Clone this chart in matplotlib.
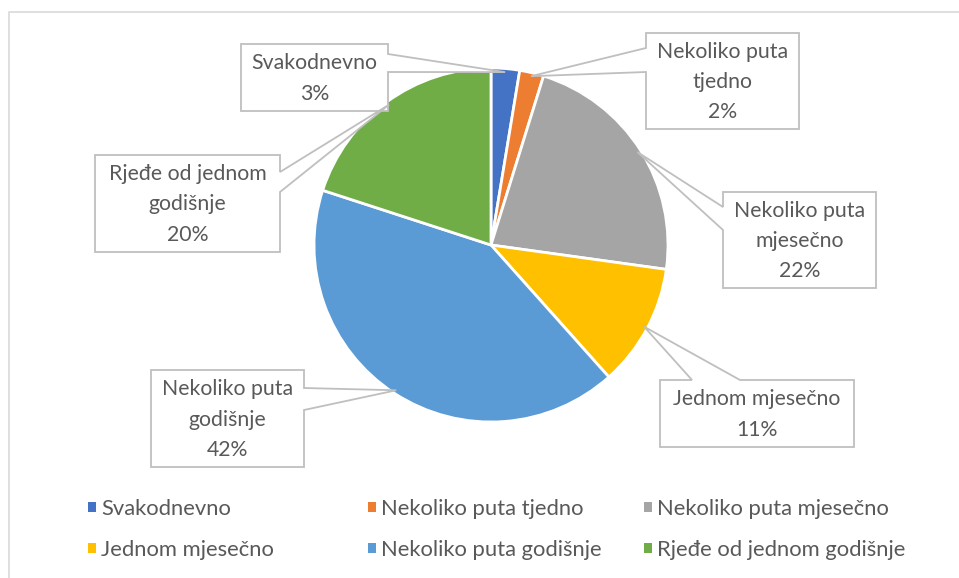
import matplotlib.pyplot as plt
from matplotlib.patches import Polygon, Patch
import numpy as np

# Data
categories = ["Svakodnevno", "Nekoliko puta tjedno", "Nekoliko puta mjesečno",
              "Jednom mjesečno", "Nekoliko puta godišnje", "Rjeđe od jednom godišnje"]
box_texts = ["Svakodnevno", "Nekoliko puta\ntjedno", "Nekoliko puta\nmjesečno",
             "Jednom mjesečno", "Nekoliko puta\ngodišnje", "Rjeđe od jednom\ngodišnje"]
shares = [2.6, 2.2, 22.4, 11.2, 41.6, 20.0]
colors = ['#4472c4', '#ed7d31', '#a5a5a5', '#ffc000', '#5b9bd5', '#70ad47']

plt.rcParams['font.family'] = ['Lato', 'DejaVu Sans']
txt_color = '#595959'
W, H = 959, 578
fig = plt.figure(figsize=(W / 100, H / 100), dpi=100)

# pie placement in pixels (y down)
cx, cy, r = 491, 245, 177
ax = fig.add_axes([(cx - r) / W, (H - cy - r) / H, 2 * r / W, 2 * r / H])
wedges, _ = ax.pie(shares, colors=colors, startangle=90, counterclock=False,
                   wedgeprops=dict(edgecolor='white', linewidth=2))
ax.set_xlim(-1, 1)
ax.set_ylim(-1, 1)

# overlay in pixel coordinates for callouts and frame
ov = fig.add_axes([0, 0, 1, 1], zorder=3)
ov.set_xlim(0, W)
ov.set_ylim(H, 0)
ov.axis('off')
ov.plot([9, 9, W], [H, 12, 12], color='#d9d9d9', lw=1.2)

# callout boxes: (x0, y0, x1, y1), side carrying the pointer, pointer base
layout = [
    ((241, 44, 388, 111), 'right', (54, 72)),
    ((646, 33, 799, 129), 'left', (48, 72)),
    ((723, 192, 876, 288), 'left', (207, 230)),
    ((660, 380, 854, 447), 'top', (692, 740)),
    ((151, 370, 304, 467), 'right', (388, 410)),
    ((95, 155, 280, 252), 'right', (172, 192)),
]

cum = np.cumsum(shares)
total = cum[-1]
for i, (box, side, (a, b)) in enumerate(layout):
    mid = (cum[i] - shares[i] / 2) / total * 2 * np.pi
    tip = (cx + 0.98 * r * np.sin(mid), cy - 0.98 * r * np.cos(mid))
    x0, y0, x1, y1 = box
    if side == 'top':
        pts = [(x0, y0), (a, y0), tip, (b, y0), (x1, y0), (x1, y1), (x0, y1)]
    elif side == 'right':
        pts = [(x0, y0), (x1, y0), (x1, a), tip, (x1, b), (x1, y1), (x0, y1)]
    else:
        pts = [(x0, y0), (x1, y0), (x1, y1), (x0, y1), (x0, b), tip, (x0, a)]
    ov.add_patch(Polygon(pts, closed=True, facecolor='white', edgecolor='#bfbfbf', lw=1.3))
    label = f"{box_texts[i]}\n{shares[i]:.0f}%"
    ov.text((x0 + x1) / 2, (y0 + y1) / 2 + 1, label, ha='center', va='center',
            fontsize=15.3, color=txt_color, linespacing=1.65)

# legend, three evenly spaced columns
handles = [Patch(facecolor=c) for c in colors]
col_x = [77, 357, 633]
for j, x in enumerate(col_x):
    idx = [j, j + 3]
    fig.legend([handles[k] for k in idx], [categories[k] for k in idx],
               loc='upper left', bbox_to_anchor=(x / W, 1 - 488 / H),
               frameon=False, fontsize=15.8, labelcolor=txt_color,
               handlelength=0.35, handleheight=0.35, handletextpad=0.25,
               labelspacing=0.95, borderpad=0)

fig.savefig("out.png", dpi=100)
